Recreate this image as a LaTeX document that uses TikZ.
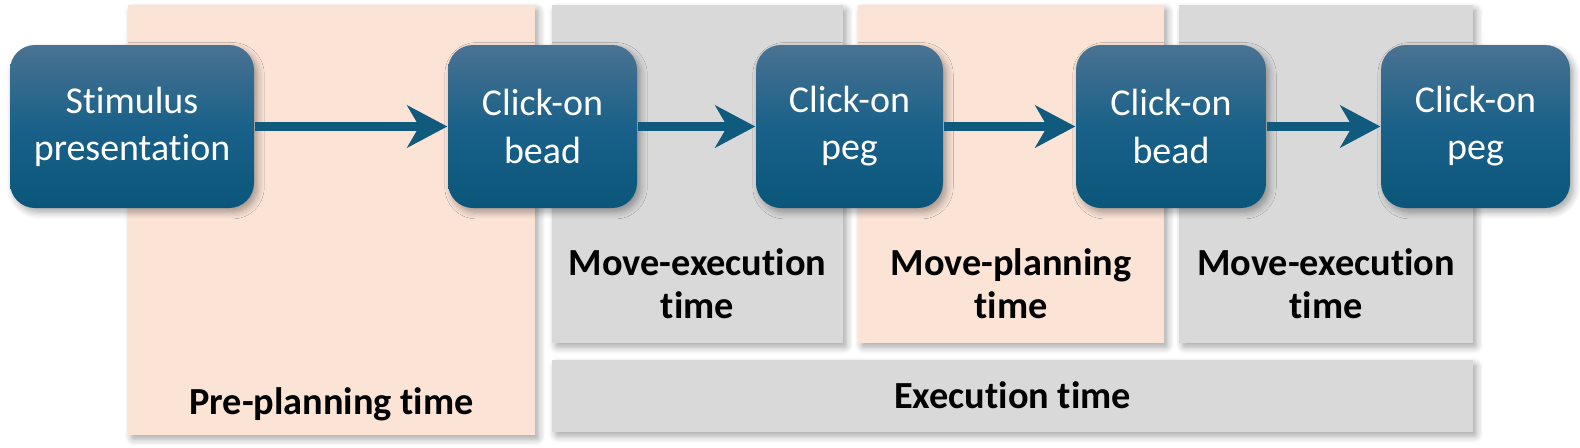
\documentclass[tikz,border=0pt]{standalone}
\usepackage{fontspec}
\setmainfont{Carlito}[Ligatures=NoCommon]
\usepackage{tikz}
\usetikzlibrary{arrows.meta,shadows.blur}
\definecolor{boxtop}{HTML}{4A7292}
\definecolor{boxmid}{HTML}{1A6189}
\definecolor{boxbot}{HTML}{0A567A}
\definecolor{arrowblue}{HTML}{105A7E}
\definecolor{peach}{HTML}{FBE3D6}
\definecolor{panelgray}{HTML}{D9D9D9}

\begin{document}
\begin{tikzpicture}[>={Stealth[length=0.40cm,width=0.42cm,inset=0.12cm]},line cap=round,
  softshadow/.style={blur shadow={shadow xshift=1pt,shadow yshift=-1.2pt,shadow blur steps=6,shadow blur extra rounding=0.5pt,shadow opacity=35}},
  stepbox/.style={rounded corners=0.25cm,minimum height=1.63cm,inner sep=0pt,text=white,align=center,
    top color=boxtop,bottom color=boxbot,middle color=boxmid,softshadow,
    font=\fontsize{10.8}{13.4}\selectfont},
  panel/.style={softshadow},
  lbl/.style={align=center,font=\fontsize{10.9}{12.2}\selectfont\bfseries},
  flow/.style={->,arrowblue,line width=0.09cm,line cap=butt}]
\useasboundingbox (0,0) rectangle (15.80,-4.47);
% background panels
\fill[peach,panel] (1.28,-0.05) rectangle (5.35,-4.35);
\fill[panelgray,panel] (5.52,-0.05) rectangle (8.43,-3.43);
\fill[peach,panel] (8.58,-0.05) rectangle (11.64,-3.43);
\fill[panelgray,panel] (11.79,-0.05) rectangle (14.73,-3.43);
\fill[panelgray,panel] (5.52,-3.60) rectangle (14.73,-4.32);
\node[lbl] (preplan) at (3.315,-4.04) {Pre-planning time};
\node[lbl] (moveexecA) at (6.975,-2.84) {Move-execution\\time};
\node[lbl] (moveplan) at (10.11,-2.84) {Move-planning\\time};
\node[lbl] (moveexecB) at (13.26,-2.84) {Move-execution\\time};
\node[lbl] (exec) at (10.125,-3.95) {Execution time};
% steps
\node[stepbox,minimum width=2.44cm] (stim) at (1.32,-1.265) {Stimulus\\presentation};
\node[stepbox,minimum width=1.89cm] (beadA) at (5.425,-1.265) {Click-on\\bead};
\node[stepbox,minimum width=1.87cm] (pegA) at (8.495,-1.265) {Click-on\\peg};
\node[stepbox,minimum width=1.90cm] (beadB) at (11.71,-1.265) {Click-on\\bead};
\node[stepbox,minimum width=1.89cm] (pegB) at (14.755,-1.265) {Click-on\\peg};
\draw[flow] (stim) -- (beadA);
\draw[flow] (beadA) -- (pegA);
\draw[flow] (pegA) -- (beadB);
\draw[flow] (beadB) -- (pegB);
\end{tikzpicture}
\end{document}
